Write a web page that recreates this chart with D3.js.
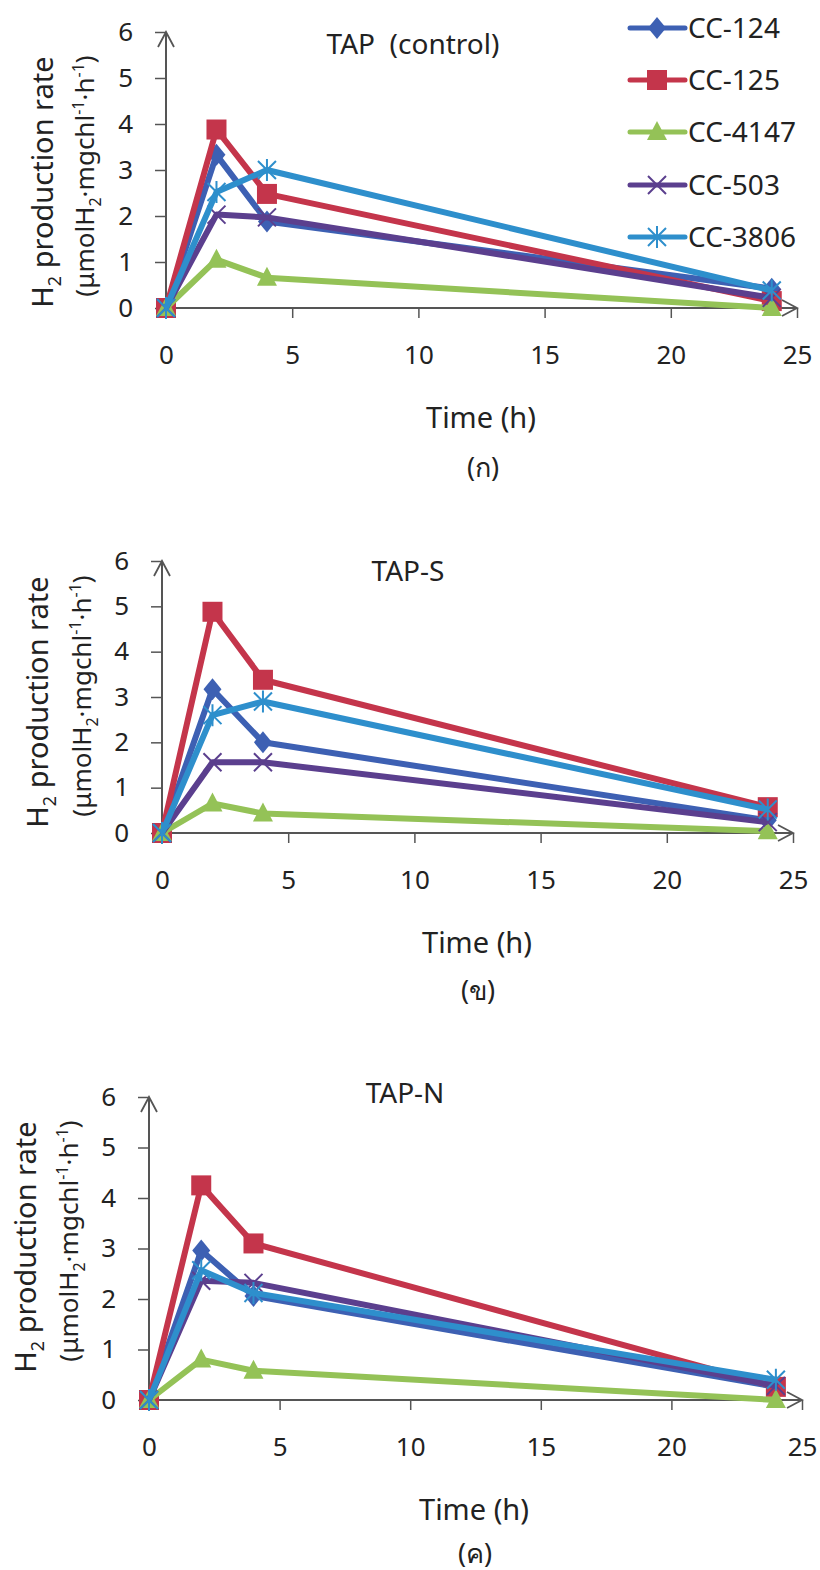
<!DOCTYPE html>
<html><head><meta charset="utf-8">
<script src="https://cdn.jsdelivr.net/npm/d3@7"></script>
<style>
html,body{margin:0;padding:0;background:#fff;}
svg text{font-family:"Noto Sans","Open Sans","DejaVu Sans",sans-serif;fill:#222;white-space:pre;}
</style></head>
<body>
<svg id="chart" width="820" height="1570"></svg>
<script>
// ---- data ----
const times = [0, 2, 4, 24];
const strains = ["CC-124", "CC-125", "CC-4147", "CC-503", "CC-3806"];
const xTicks = [0, 5, 10, 15, 20, 25];
const yTicks = [0, 1, 2, 3, 4, 5, 6];
const panelTitles = ["TAP  (control)", "TAP-S", "TAP-N"];
const panelLetters = ["(ก)", "(ข)", "(ค)"];
// values per strain (rows follow strains order), columns follow times
const valuesTAP = [
  [0, 3.33, 1.88, 0.42],
  [0, 3.88, 2.48, 0.15],
  [0, 1.05, 0.66, 0.0],
  [0, 2.03, 1.97, 0.22],
  [0, 2.52, 3.0, 0.38]
];
const valuesTAPS = [
  [0, 3.17, 2.0, 0.28],
  [0, 4.88, 3.38, 0.57],
  [0, 0.65, 0.43, 0.04],
  [0, 1.56, 1.56, 0.24],
  [0, 2.6, 2.9, 0.52]
];
const valuesTAPN = [
  [0, 2.96, 2.06, 0.26],
  [0, 4.25, 3.1, 0.26],
  [0, 0.8, 0.58, 0.0],
  [0, 2.36, 2.32, 0.28],
  [0, 2.57, 2.12, 0.4]
];
const colors = ["#3d60b3", "#c4354b", "#94c257", "#5b3f8e", "#2e8fcc"];
const symbols = ["diamond", "square", "triangle", "x", "asterisk"];

// ---- layout (pixels) ----
const panels = [
  {vals: valuesTAP,  x0: 166, x1: 797, y0: 308,  y1: 32,   lab1x: 43, lab2x: 85, labY: 182,  title: {x: 413, y: 54},   time: {x: 481, y: 428},  letter: {x: 483, y: 477}},
  {vals: valuesTAPS, x0: 162, x1: 793, y0: 833,  y1: 561,  lab1x: 38, lab2x: 82, labY: 702,  title: {x: 408, y: 581},  time: {x: 477, y: 953},  letter: {x: 478, y: 1000}},
  {vals: valuesTAPN, x0: 149, x1: 802, y0: 1400, y1: 1097, lab1x: 26, lab2x: 69, labY: 1247, title: {x: 405, y: 1103}, time: {x: 474, y: 1520}, letter: {x: 475, y: 1563}}
];

const svg = d3.select("#chart");
const axisColor = "#555";

function drawMarker(g, type, color, cx, cy) {
  if (type === "diamond") {
    g.append("path").attr("d", `M${cx},${cy-11}L${cx+9},${cy}L${cx},${cy+11}L${cx-9},${cy}Z`).attr("fill", color);
  } else if (type === "square") {
    g.append("rect").attr("x", cx-10).attr("y", cy-10).attr("width", 20).attr("height", 20).attr("fill", color);
  } else if (type === "triangle") {
    g.append("path").attr("d", `M${cx},${cy-11}L${cx+10},${cy+8}L${cx-10},${cy+8}Z`).attr("fill", color);
  } else if (type === "x") {
    g.append("path").attr("d", `M${cx-9},${cy-9}L${cx+9},${cy+9}M${cx-9},${cy+9}L${cx+9},${cy-9}`)
      .attr("stroke", color).attr("stroke-width", 2).attr("fill", "none");
  } else if (type === "asterisk") {
    g.append("path").attr("d", `M${cx-9},${cy-9}L${cx+9},${cy+9}M${cx-9},${cy+9}L${cx+9},${cy-9}M${cx},${cy-11}L${cx},${cy+11}`)
      .attr("stroke", color).attr("stroke-width", 2).attr("fill", "none");
  }
}

panels.forEach((p, pi) => {
  const x = d3.scaleLinear().domain([0, 25]).range([p.x0, p.x1]);
  const y = d3.scaleLinear().domain([0, 6]).range([p.y0, p.y1]);
  const g = svg.append("g");

  // x axis
  const xa = g.append("g").attr("transform", `translate(0,${p.y0})`)
    .call(d3.axisBottom(x).tickValues(xTicks).tickFormat(d3.format("d")).tickSize(10).tickPadding(28));
  xa.select(".domain").attr("stroke", axisColor).attr("stroke-width", 2).attr("d", `M${p.x0},0H${p.x1}`);
  xa.selectAll(".tick line").attr("stroke", axisColor).attr("stroke-width", 1.5);
  xa.selectAll(".tick text").attr("font-size", 26).style("fill", "#222");
  // y axis
  const ya = g.append("g").attr("transform", `translate(${p.x0},0)`)
    .call(d3.axisLeft(y).tickValues(yTicks).tickFormat(d3.format("d")).tickSize(11).tickPadding(22));
  ya.select(".domain").attr("stroke", axisColor).attr("stroke-width", 2).attr("d", `M0,${p.y0}V${p.y1}`);
  ya.selectAll(".tick line").attr("stroke", axisColor).attr("stroke-width", 1.5);
  ya.selectAll(".tick text").attr("font-size", 26).style("fill", "#222");
  // arrowheads
  g.append("path").attr("d", `M${p.x0-8},${p.y1+15}L${p.x0},${p.y1}L${p.x0+8},${p.y1+15}`)
    .attr("fill", "none").attr("stroke", axisColor).attr("stroke-width", 1.8);
  g.append("path").attr("d", `M${p.x1-15},${p.y0-8}L${p.x1},${p.y0}L${p.x1-15},${p.y0+8}`)
    .attr("fill", "none").attr("stroke", axisColor).attr("stroke-width", 1.8);

  // series
  const line = d3.line().x((d, i) => x(times[i])).y(d => y(d));
  p.vals.forEach((vals, si) => {
    const sg = g.append("g");
    sg.append("path").datum(vals).attr("d", line).attr("fill", "none")
      .attr("stroke", colors[si]).attr("stroke-width", 6).attr("stroke-linejoin", "round");
    vals.forEach((v, i) => drawMarker(sg, symbols[si], colors[si], x(times[i]), y(v)));
  });

  // titles & labels
  g.append("text").attr("x", p.title.x).attr("y", p.title.y).attr("text-anchor", "middle")
    .attr("font-size", 28).text(panelTitles[pi]);
  g.append("text").attr("x", p.time.x).attr("y", p.time.y).attr("text-anchor", "middle")
    .attr("font-size", 29).text("Time (h)");
  g.append("text").attr("x", p.letter.x).attr("y", p.letter.y).attr("text-anchor", "middle")
    .attr("font-size", 27).text(panelLetters[pi]);

  const l1 = g.append("text").attr("transform", `translate(${p.lab1x + 10},${p.labY}) rotate(-90)`)
    .attr("text-anchor", "middle").attr("font-size", 29);
  l1.append("tspan").text("H");
  l1.append("tspan").attr("font-size", 18).attr("dy", 8).text("2");
  l1.append("tspan").attr("dy", -8).text(" production rate");

  const l2 = g.append("text").attr("transform", `translate(${p.lab2x + 9},${p.labY - 6}) rotate(-90)`)
    .attr("text-anchor", "middle").attr("font-size", 26);
  l2.append("tspan").text("(μmolH");
  l2.append("tspan").attr("font-size", 16).attr("dy", 7).text("2");
  l2.append("tspan").attr("dy", -7).text("·mgchl");
  l2.append("tspan").attr("font-size", 16).attr("dy", -10).text("-1");
  l2.append("tspan").attr("dy", 10).text("·h");
  l2.append("tspan").attr("font-size", 16).attr("dy", -10).text("-1");
  l2.append("tspan").attr("dy", 10).text(")");
});

// legend
const legend = svg.append("g");
const legendY = [28, 80, 132, 185, 237];
strains.forEach((s, i) => {
  const ly = legendY[i];
  legend.append("line").attr("x1", 630).attr("x2", 685).attr("y1", ly).attr("y2", ly)
    .attr("stroke", colors[i]).attr("stroke-width", 5).attr("stroke-linecap", "round");
  drawMarker(legend, symbols[i], colors[i], 657, ly);
  legend.append("text").attr("x", 688).attr("y", ly + 10).attr("font-size", 28).text(s);
});
</script>
</body></html>
